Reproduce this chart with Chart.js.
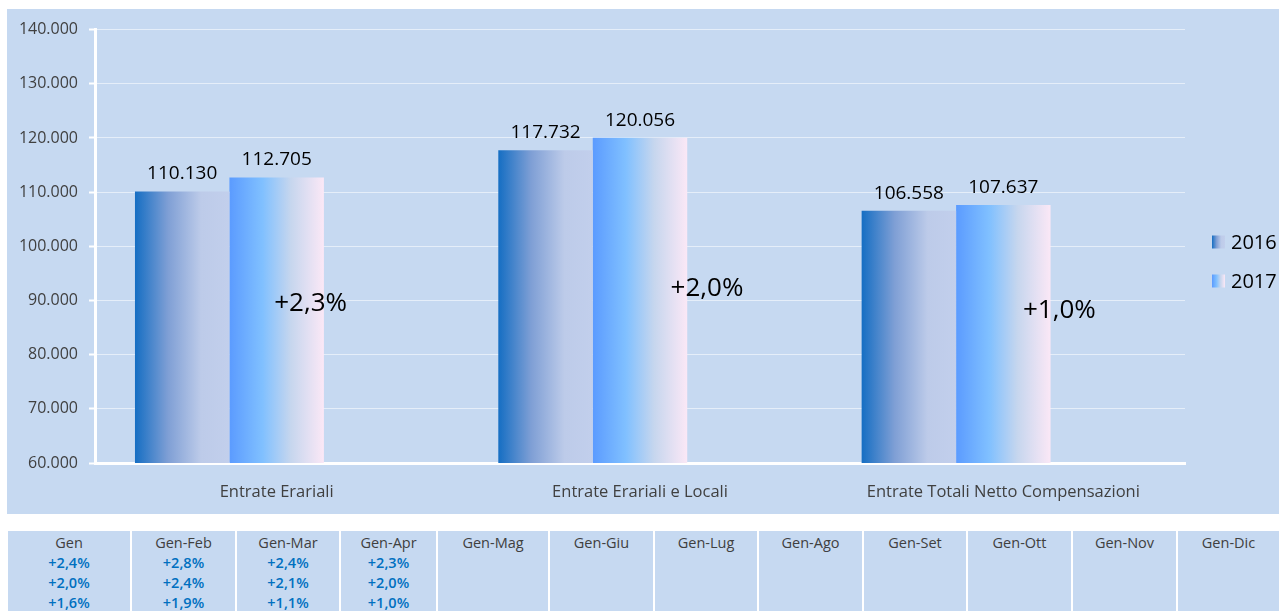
<!DOCTYPE html>
<html lang="it">
<head>
<meta charset="UTF-8">
<title>Entrate tributarie 2016 - 2017</title>
<script src="https://cdn.jsdelivr.net/npm/chart.js"></script>
<style>
  body {
    margin: 0;
    background: #fff;
    font-family: "Open Sans", sans-serif;
    width: 1279px;
    height: 611px;
    overflow: hidden;
    position: relative;
  }

  #chartBox {
    position: absolute;
    left: 7px;
    top: 9px;
    width: 1272px;
    height: 505px;
    background: #c6d9f1;
  }

  #periodi {
    position: absolute;
    left: 8px;
    top: 531px;
    display: flex;
    gap: 2px;
  }

  .cella {
    background: #c6d9f1;
    height: 90px;
    box-sizing: border-box;
    padding-top: 2px;
    text-align: center;
    font-size: 14.5px;
    line-height: 20px;
    color: #404040;
  }

  .cella .v {
    color: #0070c0;
    font-weight: 600;
  }
</style>
</head>

<body>

  <div id="chartBox"><canvas id="barChart"></canvas></div>
  <div id="periodi"></div>

  <script>
    // dati del grafico
    const categorie = ['Entrate Erariali', 'Entrate Erariali e Locali', 'Entrate Totali Netto Compensazioni'];
    const anni = ['2016', '2017'];
    const valori2016 = [110130, 117732, 106558];
    const valori2017 = [112705, 120056, 107637];
    const variazioni = ['+2,3%', '+2,0%', '+1,0%'];
    const asseMin = 60000;
    const asseMax = 140000;
    const asseStep = 10000;

    // tabella dei periodi
    const periodi = ['Gen', 'Gen-Feb', 'Gen-Mar', 'Gen-Apr', 'Gen-Mag', 'Gen-Giu',
      'Gen-Lug', 'Gen-Ago', 'Gen-Set', 'Gen-Ott', 'Gen-Nov', 'Gen-Dic'];
    const varErariali = ['+2,4%', '+2,8%', '+2,4%', '+2,3%'];
    const varErarialiLocali = ['+2,0%', '+2,4%', '+2,1%', '+2,0%'];
    const varTotali = ['+1,6%', '+1,9%', '+1,1%', '+1,0%'];

    const largCelle = [122, 103, 102, 95, 110, 103, 102, 103, 102, 103, 103, 101];

    const sfumature = [
      [[0, '#156ec3'], [0.35, '#7f9fd5'], [0.7, '#bdcbe9'], [1, '#c2cfec']],
      [[0, '#5b9bff'], [0.35, '#80c0ff'], [0.65, '#c6d6ee'], [1, '#fbe8f6']]
    ];

    function formatta(v) {
      return String(v).replace(/\B(?=(\d{3})+(?!\d))/g, '.');
    }

    function gradiente(ctx, x0, x1, stops) {
      const g = ctx.createLinearGradient(x0, 0, x1, 0);
      stops.forEach(s => g.addColorStop(s[0], s[1]));
      return g;
    }

    // tabella
    const tab = document.getElementById('periodi');
    periodi.forEach((p, i) => {
      const c = document.createElement('div');
      c.className = 'cella';
      c.style.width = largCelle[i] + 'px';
      let html = '<div>' + p + '</div>';
      if (i < varErariali.length) {
        html += '<div class="v">' + varErariali[i] + '</div>';
        html += '<div class="v">' + varErarialiLocali[i] + '</div>';
        html += '<div class="v">' + varTotali[i] + '</div>';
      }
      c.innerHTML = html;
      tab.appendChild(c);
    });

    // sfumature delle barre, calcolate sulla posizione di ogni barra
    const pluginSfumature = {
      id: 'sfumature',
      beforeDatasetsDraw(chart) {
        const ctx = chart.ctx;
        [0, 1].forEach(d => {
          chart.getDatasetMeta(d).data.forEach(el => {
            const { x, width } = el.getProps(['x', 'width'], true);
            el.options.backgroundColor = gradiente(ctx, x - width / 2, x + width / 2, sfumature[d]);
          });
        });
      }
    };

    // etichette valori, variazioni e legenda
    const pluginEtichette = {
      id: 'etichette',
      afterDatasetsDraw(chart, args, opts) {
        const ctx = chart.ctx;
        ctx.save();
        ctx.fillStyle = '#000';
        ctx.textAlign = 'center';
        ctx.textBaseline = 'alphabetic';
        ctx.font = '19px "Open Sans"';
        [0, 1].forEach(d => {
          const ds = chart.data.datasets[d];
          chart.getDatasetMeta(d).data.forEach((el, i) => {
            ctx.fillText(formatta(ds.data[i]), el.x, el.y - 12);
          });
        });

        ctx.font = '26px "Open Sans"';
        ctx.textBaseline = 'middle';
        const xs = chart.scales.x, ys = chart.scales.y;
        variazioni.forEach((t, i) => {
          const x = xs.getPixelForValue(i) + opts.spostX[i];
          const y = ys.getPixelForValue(opts.quota[i]);
          ctx.fillText(t, x, y);
        });

        // legenda a destra
        const area = chart.chartArea;
        const mezzo = chart.height / 2;
        ctx.font = '20px "Open Sans"';
        ctx.textAlign = 'left';
        anni.forEach((a, i) => {
          const y = mezzo + (i === 0 ? -19.5 : 19.5);
          const bx = area.right + 27;
          ctx.fillStyle = gradiente(ctx, bx, bx + 13, sfumature[i]);
          ctx.fillRect(bx, y - 6.5, 13, 13);
          ctx.fillStyle = '#000';
          ctx.fillText(a, area.right + 46, y + 1);
        });
        ctx.restore();
      }
    };

    const ctx = document.getElementById('barChart').getContext('2d');
    new Chart(ctx, {
      type: 'bar',
      data: {
        labels: categorie,
        datasets: [
          { label: anni[0], data: valori2016, backgroundColor: () => '#1570c4' },
          { label: anni[1], data: valori2017, backgroundColor: () => '#5b9bff' },
          { label: 'variazione', data: [null, null, null], backgroundColor: 'rgba(0,0,0,0)' }
        ]
      },
      options: {
        responsive: true,
        maintainAspectRatio: false,
        animation: false,
        categoryPercentage: 0.78,
        barPercentage: 1,
        layout: {
          padding: { top: 20, right: 94, bottom: 0, left: 0 }
        },
        plugins: {
          legend: { display: false },
          tooltip: { enabled: false },
          etichette: {
            spostX: [34, 67, 56],
            quota: [89400, 92250, 88200]
          }
        },
        scales: {
          x: {
            z: 1,
            grid: { display: false, drawTicks: false },
            border: { color: '#ffffff', width: 3 },
            ticks: {
              color: '#404040',
              font: { family: '"Open Sans"', size: 16.5 },
              padding: 19
            },
            afterFit: scale => { scale.height = 51; }
          },
          y: {
            min: asseMin,
            max: asseMax,
            grid: {
              color: 'rgba(255,255,255,0.55)',
              lineWidth: 1,
              tickColor: '#ffffff',
              tickWidth: 2,
              tickLength: 6
            },
            border: { color: '#ffffff', width: 3 },
            ticks: {
              stepSize: asseStep,
              color: '#404040',
              font: { family: '"Open Sans"', size: 16 },
              padding: 11,
              callback: v => formatta(v)
            },
            afterFit: scale => { scale.width = 88; }
          }
        }
      },
      plugins: [pluginSfumature, pluginEtichette]
    });
  </script>

</body>
</html>
